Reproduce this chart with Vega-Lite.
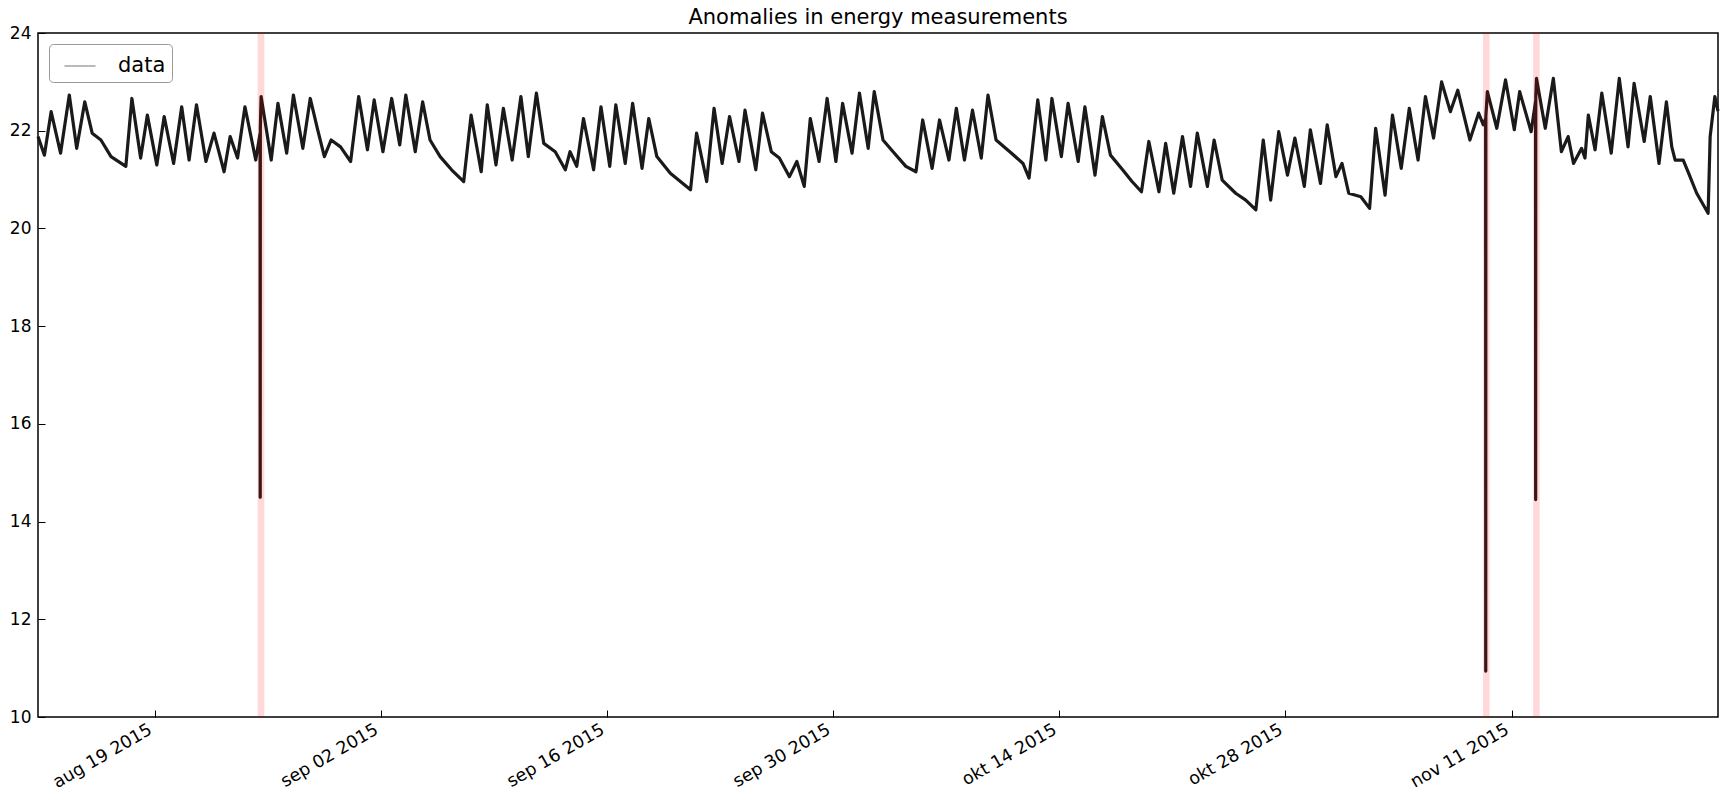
{
  "$schema": "https://vega.github.io/schema/vega-lite/v6.json",
  "width": 1680,
  "height": 684,
  "autosize": "none",
  "padding": {"left": 38, "top": 33, "right": 9, "bottom": 80},
  "background": "white",
  "title": {"text": "Anomalies in energy measurements", "fontSize": 21, "fontWeight": "normal", "color": "black", "offset": -4, "anchor": "middle"},
  "config": {
    "font": "DejaVu Sans",
    "view": {"stroke": "#000", "strokeWidth": 1.5},
    "axis": {"grid": false, "domain": false, "labelColor": "#000", "tickColor": "#000", "labelFontSize": 17.5, "tickWidth": 1}
  },
  "datasets": {
    "series": [
      {"t":"2015-08-11T18:30","v":21.88},
      {"t":"2015-08-12T04:00","v":21.50},
      {"t":"2015-08-12T14:00","v":22.39},
      {"t":"2015-08-13T04:00","v":21.54},
      {"t":"2015-08-13T17:00","v":22.73},
      {"t":"2015-08-14T04:00","v":21.64},
      {"t":"2015-08-14T16:00","v":22.59},
      {"t":"2015-08-15T03:00","v":21.95},
      {"t":"2015-08-15T16:00","v":21.81},
      {"t":"2015-08-16T07:00","v":21.47},
      {"t":"2015-08-17T05:00","v":21.27},
      {"t":"2015-08-17T14:00","v":22.66},
      {"t":"2015-08-18T03:00","v":21.44},
      {"t":"2015-08-18T13:00","v":22.32},
      {"t":"2015-08-19T03:00","v":21.30},
      {"t":"2015-08-19T14:00","v":22.29},
      {"t":"2015-08-20T04:00","v":21.33},
      {"t":"2015-08-20T16:00","v":22.49},
      {"t":"2015-08-21T03:00","v":21.40},
      {"t":"2015-08-21T14:00","v":22.53},
      {"t":"2015-08-22T04:00","v":21.37},
      {"t":"2015-08-22T16:00","v":21.95},
      {"t":"2015-08-23T07:00","v":21.16},
      {"t":"2015-08-23T16:00","v":21.88},
      {"t":"2015-08-24T03:00","v":21.44},
      {"t":"2015-08-24T14:00","v":22.49},
      {"t":"2015-08-25T06:00","v":21.40},
      {"t":"2015-08-25T12:30","v":21.95},
      {"t":"2015-08-25T12:40","v":14.50},
      {"t":"2015-08-25T12:50","v":22.05},
      {"t":"2015-08-25T14:00","v":22.70},
      {"t":"2015-08-26T05:00","v":21.40},
      {"t":"2015-08-26T15:00","v":22.56},
      {"t":"2015-08-27T04:00","v":21.54},
      {"t":"2015-08-27T14:00","v":22.73},
      {"t":"2015-08-28T04:00","v":21.64},
      {"t":"2015-08-28T15:00","v":22.66},
      {"t":"2015-08-29T02:00","v":22.02},
      {"t":"2015-08-29T12:00","v":21.47},
      {"t":"2015-08-29T22:00","v":21.81},
      {"t":"2015-08-30T12:00","v":21.67},
      {"t":"2015-08-31T03:00","v":21.37},
      {"t":"2015-08-31T15:00","v":22.70},
      {"t":"2015-09-01T04:00","v":21.61},
      {"t":"2015-09-01T14:00","v":22.63},
      {"t":"2015-09-02T03:00","v":21.57},
      {"t":"2015-09-02T16:00","v":22.66},
      {"t":"2015-09-03T04:00","v":21.71},
      {"t":"2015-09-03T13:00","v":22.73},
      {"t":"2015-09-04T03:00","v":21.57},
      {"t":"2015-09-04T14:00","v":22.59},
      {"t":"2015-09-05T01:00","v":21.81},
      {"t":"2015-09-05T16:00","v":21.47},
      {"t":"2015-09-06T09:00","v":21.20},
      {"t":"2015-09-07T03:00","v":20.96},
      {"t":"2015-09-07T14:00","v":22.32},
      {"t":"2015-09-08T05:00","v":21.16},
      {"t":"2015-09-08T14:00","v":22.53},
      {"t":"2015-09-09T03:00","v":21.30},
      {"t":"2015-09-09T14:00","v":22.46},
      {"t":"2015-09-10T03:00","v":21.40},
      {"t":"2015-09-10T16:00","v":22.70},
      {"t":"2015-09-11T03:00","v":21.47},
      {"t":"2015-09-11T15:00","v":22.77},
      {"t":"2015-09-12T02:00","v":21.74},
      {"t":"2015-09-12T19:00","v":21.57},
      {"t":"2015-09-13T10:00","v":21.20},
      {"t":"2015-09-13T17:00","v":21.57},
      {"t":"2015-09-14T03:00","v":21.27},
      {"t":"2015-09-14T13:00","v":22.25},
      {"t":"2015-09-15T04:00","v":21.20},
      {"t":"2015-09-15T15:00","v":22.49},
      {"t":"2015-09-16T04:00","v":21.27},
      {"t":"2015-09-16T13:00","v":22.53},
      {"t":"2015-09-17T03:00","v":21.33},
      {"t":"2015-09-17T14:00","v":22.56},
      {"t":"2015-09-18T04:00","v":21.23},
      {"t":"2015-09-18T14:00","v":22.25},
      {"t":"2015-09-19T02:00","v":21.47},
      {"t":"2015-09-19T22:00","v":21.13},
      {"t":"2015-09-21T04:00","v":20.79},
      {"t":"2015-09-21T13:00","v":21.95},
      {"t":"2015-09-22T04:00","v":20.96},
      {"t":"2015-09-22T15:00","v":22.46},
      {"t":"2015-09-23T03:00","v":21.33},
      {"t":"2015-09-23T14:00","v":22.29},
      {"t":"2015-09-24T04:00","v":21.37},
      {"t":"2015-09-24T13:00","v":22.42},
      {"t":"2015-09-25T05:00","v":21.20},
      {"t":"2015-09-25T15:00","v":22.36},
      {"t":"2015-09-26T04:00","v":21.57},
      {"t":"2015-09-26T16:00","v":21.44},
      {"t":"2015-09-27T07:00","v":21.06},
      {"t":"2015-09-27T18:00","v":21.37},
      {"t":"2015-09-28T05:00","v":20.86},
      {"t":"2015-09-28T14:00","v":22.25},
      {"t":"2015-09-29T03:00","v":21.37},
      {"t":"2015-09-29T15:00","v":22.66},
      {"t":"2015-09-30T04:00","v":21.37},
      {"t":"2015-09-30T14:00","v":22.56},
      {"t":"2015-10-01T04:00","v":21.54},
      {"t":"2015-10-01T15:00","v":22.77},
      {"t":"2015-10-02T04:00","v":21.64},
      {"t":"2015-10-02T13:00","v":22.80},
      {"t":"2015-10-03T02:00","v":21.81},
      {"t":"2015-10-03T17:00","v":21.57},
      {"t":"2015-10-04T12:00","v":21.27},
      {"t":"2015-10-05T03:00","v":21.16},
      {"t":"2015-10-05T13:00","v":22.22},
      {"t":"2015-10-06T03:00","v":21.23},
      {"t":"2015-10-06T14:00","v":22.22},
      {"t":"2015-10-07T04:00","v":21.40},
      {"t":"2015-10-07T15:00","v":22.46},
      {"t":"2015-10-08T03:00","v":21.40},
      {"t":"2015-10-08T15:00","v":22.42},
      {"t":"2015-10-09T04:00","v":21.44},
      {"t":"2015-10-09T14:00","v":22.73},
      {"t":"2015-10-10T02:00","v":21.81},
      {"t":"2015-10-11T01:00","v":21.54},
      {"t":"2015-10-11T18:00","v":21.33},
      {"t":"2015-10-12T03:00","v":21.03},
      {"t":"2015-10-12T16:00","v":22.63},
      {"t":"2015-10-13T04:00","v":21.40},
      {"t":"2015-10-13T13:00","v":22.66},
      {"t":"2015-10-14T03:00","v":21.47},
      {"t":"2015-10-14T13:00","v":22.56},
      {"t":"2015-10-15T04:00","v":21.37},
      {"t":"2015-10-15T14:00","v":22.49},
      {"t":"2015-10-16T05:00","v":21.09},
      {"t":"2015-10-16T16:00","v":22.29},
      {"t":"2015-10-17T04:00","v":21.50},
      {"t":"2015-10-17T22:00","v":21.20},
      {"t":"2015-10-18T12:00","v":20.96},
      {"t":"2015-10-19T02:00","v":20.75},
      {"t":"2015-10-19T13:00","v":21.78},
      {"t":"2015-10-20T04:00","v":20.75},
      {"t":"2015-10-20T14:00","v":21.74},
      {"t":"2015-10-21T02:00","v":20.72},
      {"t":"2015-10-21T15:00","v":21.88},
      {"t":"2015-10-22T03:00","v":20.86},
      {"t":"2015-10-22T13:00","v":21.95},
      {"t":"2015-10-23T04:00","v":20.86},
      {"t":"2015-10-23T14:00","v":21.81},
      {"t":"2015-10-24T02:00","v":20.99},
      {"t":"2015-10-24T22:00","v":20.72},
      {"t":"2015-10-25T13:00","v":20.58},
      {"t":"2015-10-26T04:00","v":20.38},
      {"t":"2015-10-26T15:00","v":21.81},
      {"t":"2015-10-27T02:00","v":20.58},
      {"t":"2015-10-27T14:00","v":21.98},
      {"t":"2015-10-28T03:00","v":21.09},
      {"t":"2015-10-28T14:00","v":21.85},
      {"t":"2015-10-29T04:00","v":20.86},
      {"t":"2015-10-29T13:00","v":22.02},
      {"t":"2015-10-30T04:00","v":20.92},
      {"t":"2015-10-30T14:00","v":22.12},
      {"t":"2015-10-31T03:00","v":21.06},
      {"t":"2015-10-31T12:00","v":21.33},
      {"t":"2015-10-31T22:00","v":20.72},
      {"t":"2015-11-01T16:00","v":20.65},
      {"t":"2015-11-02T05:00","v":20.41},
      {"t":"2015-11-02T14:00","v":22.05},
      {"t":"2015-11-03T04:00","v":20.68},
      {"t":"2015-11-03T15:00","v":22.32},
      {"t":"2015-11-04T04:00","v":21.23},
      {"t":"2015-11-04T16:00","v":22.46},
      {"t":"2015-11-05T05:00","v":21.40},
      {"t":"2015-11-05T16:00","v":22.70},
      {"t":"2015-11-06T04:00","v":21.85},
      {"t":"2015-11-06T16:00","v":23.00},
      {"t":"2015-11-07T05:00","v":22.39},
      {"t":"2015-11-07T16:00","v":22.83},
      {"t":"2015-11-08T10:00","v":21.81},
      {"t":"2015-11-08T23:00","v":22.36},
      {"t":"2015-11-09T06:00","v":22.12},
      {"t":"2015-11-09T09:25","v":22.25},
      {"t":"2015-11-09T09:35","v":10.94},
      {"t":"2015-11-09T09:45","v":22.30},
      {"t":"2015-11-09T12:00","v":22.80},
      {"t":"2015-11-10T02:00","v":22.05},
      {"t":"2015-11-10T15:00","v":23.04},
      {"t":"2015-11-11T04:00","v":22.02},
      {"t":"2015-11-11T12:00","v":22.80},
      {"t":"2015-11-12T05:00","v":21.98},
      {"t":"2015-11-12T11:35","v":22.60},
      {"t":"2015-11-12T11:45","v":14.45},
      {"t":"2015-11-12T11:55","v":22.70},
      {"t":"2015-11-12T13:00","v":23.07},
      {"t":"2015-11-13T02:00","v":22.05},
      {"t":"2015-11-13T14:00","v":23.07},
      {"t":"2015-11-14T02:00","v":21.57},
      {"t":"2015-11-14T12:00","v":21.88},
      {"t":"2015-11-14T20:00","v":21.33},
      {"t":"2015-11-15T08:00","v":21.64},
      {"t":"2015-11-15T13:00","v":21.44},
      {"t":"2015-11-15T18:00","v":22.32},
      {"t":"2015-11-16T04:00","v":21.61},
      {"t":"2015-11-16T14:00","v":22.77},
      {"t":"2015-11-17T04:00","v":21.54},
      {"t":"2015-11-17T16:00","v":23.07},
      {"t":"2015-11-18T05:00","v":21.67},
      {"t":"2015-11-18T14:00","v":22.97},
      {"t":"2015-11-19T05:00","v":21.78},
      {"t":"2015-11-19T14:00","v":22.70},
      {"t":"2015-11-20T03:00","v":21.33},
      {"t":"2015-11-20T14:00","v":22.59},
      {"t":"2015-11-20T22:00","v":21.67},
      {"t":"2015-11-21T03:00","v":21.40},
      {"t":"2015-11-21T15:00","v":21.40},
      {"t":"2015-11-21T23:00","v":21.13},
      {"t":"2015-11-22T11:00","v":20.72},
      {"t":"2015-11-23T04:00","v":20.31},
      {"t":"2015-11-23T07:00","v":21.88},
      {"t":"2015-11-23T14:00","v":22.70},
      {"t":"2015-11-23T18:40","v":22.40}
    ],
    "anomalies": [
      {"start":"2015-08-25T08:50","end":"2015-08-25T18:50"},
      {"start":"2015-11-09T05:30","end":"2015-11-09T15:20"},
      {"start":"2015-11-12T07:55","end":"2015-11-12T17:45"}
    ]
  },
  "layer": [
    {
      "data": {"name": "series"},
      "mark": {"type": "line", "strokeWidth": 3.2, "strokeJoin": "round"},
      "encoding": {
        "x": {
          "field": "t", "type": "temporal",
          "scale": {"domain": [{"year": 2015, "month": 8, "date": 11, "hours": 18, "minutes": 30}, {"year": 2015, "month": 11, "date": 23, "hours": 18, "minutes": 40}], "nice": false},
          "axis": {
            "title": null,
            "values": [{"year": 2015, "month": 8, "date": 19}, {"year": 2015, "month": 9, "date": 2}, {"year": 2015, "month": 9, "date": 16}, {"year": 2015, "month": 9, "date": 30}, {"year": 2015, "month": 10, "date": 14}, {"year": 2015, "month": 10, "date": 28}, {"year": 2015, "month": 11, "date": 11}],
            "labelExpr": "['jan','feb','mrt','apr','mei','jun','jul','aug','sep','okt','nov','dec'][month(datum.value)] + ' ' + timeFormat(datum.value, '%d %Y')",
            "labelAngle": -30,
            "labelAlign": "right",
            "labelBaseline": "bottom",
            "tickSize": -7,
            "labelPadding": 26,
            "labelFontSize": 17.5
          }
        },
        "y": {
          "field": "v", "type": "quantitative",
          "scale": {"domain": [10, 24], "nice": false, "zero": false},
          "axis": {"title": null, "values": [10, 12, 14, 16, 18, 20, 22, 24], "tickSize": -7, "labelPadding": 14, "labelFontSize": 17}
        },
        "color": {
          "datum": "data",
          "type": "nominal",
          "scale": {"range": ["#1a1a1a"]},
          "legend": {
            "title": null,
            "orient": "none",
            "legendX": 11,
            "legendY": 11,
            "symbolType": "stroke",
            "symbolSize": 961,
            "symbolStrokeWidth": 1,
            "symbolOpacity": 0.6,
            "symbolOffset": 9,
            "labelFontSize": 21,
            "labelOffset": 22,
            "labelColor": "#000",
            "padding": 6,
            "fillColor": "white",
            "strokeColor": "#999",
            "cornerRadius": 4
          }
        }
      }
    },
    {
      "data": {"name": "anomalies"},
      "mark": {"type": "rect", "color": "red", "opacity": 0.15},
      "encoding": {
        "x": {"field": "start", "type": "temporal"},
        "x2": {"field": "end"}
      }
    }
  ]
}
